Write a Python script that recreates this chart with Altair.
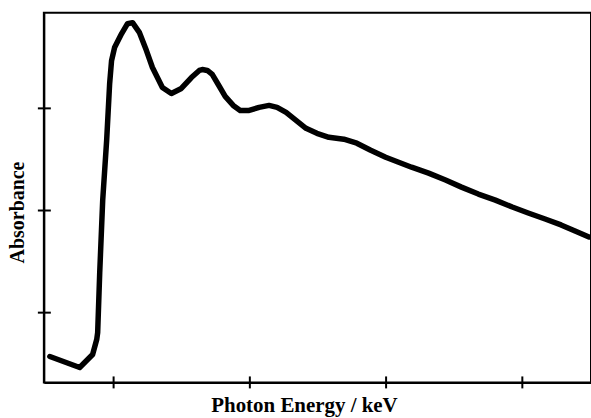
import altair as alt
import pandas as pd

energy = [0.532, 0.751, 0.846, 0.876, 0.883, 0.898, 0.920, 0.949, 0.971, 0.985,
          1.007, 1.059, 1.102, 1.139, 1.190, 1.241, 1.285, 1.358, 1.424, 1.497,
          1.571, 1.629, 1.651, 1.688, 1.724, 1.768, 1.819, 1.878, 1.929, 1.995,
          2.068, 2.141, 2.200, 2.266, 2.339, 2.412, 2.492, 2.580, 2.690, 2.785,
          2.887, 2.997, 3.092, 3.187, 3.312, 3.436, 3.553, 3.677, 3.802, 3.926,
          4.043, 4.167, 4.284, 4.387, 4.489]
absorbance = [0.571, 0.463, 0.590, 0.737, 0.805, 1.390, 2.102, 2.688, 3.244, 3.468,
              3.595, 3.732, 3.829, 3.839, 3.741, 3.566, 3.400, 3.205, 3.146, 3.195,
              3.302, 3.371, 3.380, 3.371, 3.332, 3.234, 3.117, 3.029, 2.980, 2.980,
              3.010, 3.029, 3.010, 2.961, 2.883, 2.805, 2.756, 2.717, 2.698, 2.659,
              2.590, 2.522, 2.473, 2.424, 2.366, 2.298, 2.229, 2.161, 2.102, 2.034,
              1.976, 1.917, 1.859, 1.800, 1.741]

x_ticks = [1, 2, 3, 4]
y_ticks = [1, 2, 3]

x_domain = [0.488, 4.504]
y_domain = [0.317, 3.937]

FONT = "Liberation Serif"

xs = alt.Scale(domain=x_domain, nice=False, zero=False)
ys = alt.Scale(domain=y_domain, nice=False, zero=False)

curve = pd.DataFrame({"E": energy, "A": absorbance})

line = alt.Chart(curve).mark_line(
    color="black", strokeWidth=5.5, strokeJoin="round", strokeCap="round"
).encode(
    x=alt.X("E:Q", scale=xs, title="Photon Energy / keV",
            axis=alt.Axis(labels=False, ticks=False, grid=False,
                          domainColor="black", domainWidth=2,
                          titleFont=FONT, titleFontSize=21, titleFontWeight="bold",
                          titleColor="black", titleX=261, titleY=29,
                          titleAlign="center", titleBaseline="alphabetic")),
    y=alt.Y("A:Q", scale=ys, title="Absorbance",
            axis=alt.Axis(labels=False, ticks=False, grid=False,
                          domainColor="black", domainWidth=2,
                          titleFont=FONT, titleFontSize=20, titleFontWeight="bold",
                          titleColor="black", titleX=-20, titleY=200,
                          titleAlign="center", titleBaseline="alphabetic")),
)

ytick = alt.Chart(pd.DataFrame({"A": y_ticks})).mark_rule(
    color="black", strokeWidth=2
).encode(
    y=alt.Y("A:Q", scale=ys),
    x=alt.value(-6),
    x2=alt.value(7),
)

xtick = alt.Chart(pd.DataFrame({"E": x_ticks})).mark_rule(
    color="black", strokeWidth=2
).encode(
    x=alt.X("E:Q", scale=xs),
    y=alt.value(365),
    y2=alt.value(377),
)

chart = alt.layer(line, ytick, xtick).properties(
    width=549, height=371,
    autosize=alt.AutoSizeParams(type="none"),
    padding={"left": 44, "top": 12, "right": 0, "bottom": 35},
    background="white",
).configure_view(stroke="black", strokeWidth=2)

chart.save("out.html", embed_options={"renderer": "svg", "actions": False})
